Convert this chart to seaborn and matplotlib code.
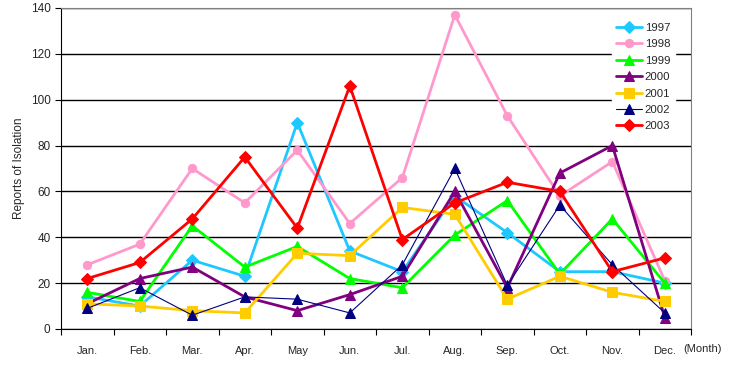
import numpy as np
import pandas as pd
import seaborn as sns
import matplotlib.pyplot as plt

# monthly reports of isolation
months = ["Jan.", "Feb.", "Mar.", "Apr.", "May", "Jun.", "Jul.", "Aug.", "Sep.", "Oct.", "Nov.", "Dec."]
years = ["1997", "1998", "1999", "2000", "2001", "2002", "2003"]

y1997 = [14, 10, 30, 23, 90, 34, 25, 58, 42, 25, 25, 20]
y1998 = [28, 37, 70, 55, 78, 46, 66, 137, 93, 58, 73, 21]
y1999 = [16, 12, 45, 27, 36, 22, 18, 41, 56, 24, 48, 20]
y2000 = [11, 22, 27, 14, 8, 15, 23, 60, 18, 68, 80, 5]
y2001 = [11, 10, 8, 7, 33, 32, 53, 50, 13, 23, 16, 12]
y2002 = [9, 18, 6, 14, 13, 7, 28, 70, 19, 54, 28, 7]
y2003 = [22, 29, 48, 75, 44, 106, 39, 55, 64, 60, 25, 31]

values = [y1997, y1998, y1999, y2000, y2001, y2002, y2003]
colors = ["#1EC8FF", "#FF99CC", "#00FF00", "#800080", "#FFCC00", "#000080", "#FF0000"]
markers = ["D", "o", "^", "^", "s", "^", "D"]
widths = [2, 2, 2, 2, 2, 0.8, 2]

df = pd.DataFrame({"month": np.tile(np.arange(len(months)), len(years)),
                   "year": np.repeat(years, len(months)),
                   "reports": np.concatenate(values)})

sns.set_style("white")
plt.rcParams['font.family'] = ['Liberation Sans', 'DejaVu Sans']

fig = plt.figure(figsize=(7.36, 3.75), dpi=100)
ax = fig.add_axes([0.0829, 0.1227, 0.8561, 0.856])

for yr, c, m, lw in zip(years, colors, markers, widths):
    sub = df[df["year"] == yr]
    sns.lineplot(data=sub, x="month", y="reports", ax=ax, color=c, marker=m,
                 lw=lw, markersize=6.5 if m != "o" else 6, markeredgecolor=c,
                 label=yr)

ax.set_xlim(-0.5, 11.5)
ax.set_ylim(0, 140)
ax.set_yticks(np.arange(0, 141, 20))
ax.yaxis.grid(True, color="black", lw=1)
ax.set_axisbelow(True)
ax.set_xticks(np.arange(-0.5, 11.6, 1))
ax.set_xticklabels([])
ax.set_xticks(np.arange(len(months)), minor=True)
ax.set_xticklabels(months, minor=True)
ax.tick_params(axis="x", which="major", length=4, direction="out", color="black", bottom=True)
ax.tick_params(axis="x", which="minor", length=0, labelsize=8, pad=12)
ax.tick_params(axis="y", length=4, direction="out", color="black", left=True, labelsize=8.5)
ax.set_xlabel("")
ax.set_ylabel("Reports of Isolation", fontsize=8.5, labelpad=4)

for side in ["top", "right"]:
    ax.spines[side].set_color("#808080")
for side in ["left", "bottom"]:
    ax.spines[side].set_color("black")

fig.text(683 / 736, 1 - 349 / 375, "(Month)", fontsize=8, ha="left", va="center")

leg = ax.legend(loc="upper right", bbox_to_anchor=(0.983, 0.985), frameon=True,
                fontsize=8.2, handlelength=2.3, handletextpad=0.2, labelspacing=0.56,
                borderpad=0.4, fancybox=False)
leg.get_frame().set_edgecolor("white")
leg.get_frame().set_facecolor("white")
leg.get_frame().set_alpha(1)

fig.savefig("out.png", dpi=100)
